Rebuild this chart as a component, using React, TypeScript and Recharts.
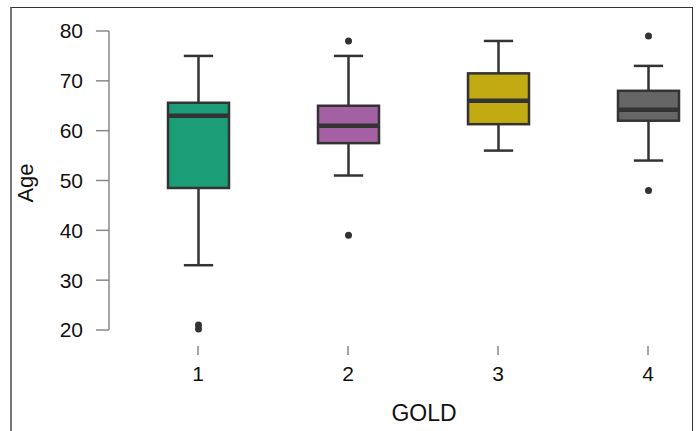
import React from "react";
import { Bar, ComposedChart, XAxis, YAxis } from "recharts";

const groups = ["1", "2", "3", "4"];
const lowerWhisker = [33, 51, 56, 54];
const lowerQuartile = [48.5, 57.5, 61.3, 62];
const medians = [63, 61, 66, 64.2];
const upperQuartile = [65.6, 65, 71.5, 68];
const upperWhisker = [75, 75, 78, 73];
const outliers: number[][] = [[21, 20.2], [78, 39], [], [79, 48]];
const fills = ["#1b9e77", "#a361a3", "#c2aa12", "#666666"];
const yTicks = [20, 30, 40, 50, 60, 70, 80];

type BoxRow = {
  group: string;
  lo: number;
  q1: number;
  med: number;
  q3: number;
  hi: number;
  out: number[];
  fill: string;
};

const rows: BoxRow[] = groups.map((group, i) => ({
  group,
  lo: lowerWhisker[i],
  q1: lowerQuartile[i],
  med: medians[i],
  q3: upperQuartile[i],
  hi: upperWhisker[i],
  out: outliers[i],
  fill: fills[i],
}));

// full extent of each group (whiskers + outliers), used as the bar range
const extent = (r: BoxRow): [number, number] => [
  Math.min(r.lo, ...r.out),
  Math.max(r.hi, ...r.out),
];

const INK = "#333333";
const FONT = "'Liberation Sans', Arial, sans-serif";

function BoxShape(props: any) {
  const { x, width, payload } = props;
  const y = Math.min(props.y, props.y + props.height);
  const h = Math.abs(props.height);
  const [min, max] = extent(payload);
  const py = (v: number) => y + ((max - v) / (max - min)) * h;
  const cx = x + width / 2;
  const cap = width * 0.24;
  return (
    <g>
      <line x1={cx} x2={cx} y1={py(payload.hi)} y2={py(payload.q3)} stroke={INK} strokeWidth={2.5} />
      <line x1={cx} x2={cx} y1={py(payload.q1)} y2={py(payload.lo)} stroke={INK} strokeWidth={2.5} />
      <line x1={cx - cap} x2={cx + cap} y1={py(payload.hi)} y2={py(payload.hi)} stroke={INK} strokeWidth={2.5} />
      <line x1={cx - cap} x2={cx + cap} y1={py(payload.lo)} y2={py(payload.lo)} stroke={INK} strokeWidth={2.5} />
      <rect
        x={x}
        y={py(payload.q3)}
        width={width}
        height={py(payload.q1) - py(payload.q3)}
        fill={payload.fill}
        stroke={INK}
        strokeWidth={2.5}
      />
      <line x1={x} x2={x + width} y1={py(payload.med)} y2={py(payload.med)} stroke={INK} strokeWidth={4.5} />
      {payload.out.map((v: number, i: number) => (
        <circle key={i} cx={cx} cy={py(v)} r={3.5} fill={INK} />
      ))}
    </g>
  );
}

function GroupTick(props: any) {
  const { x, y, payload } = props;
  return (
    <g>
      <line x1={x} x2={x} y1={y + 16} y2={y + 25} stroke="#888" strokeWidth={1.5} />
      <text x={x} y={y + 51} textAnchor="middle" fontSize={21} fontFamily={FONT} fill="#111">
        {payload.value}
      </text>
    </g>
  );
}

export default function App() {
  return (
    <div
      style={{
        position: "fixed",
        left: 0,
        top: 0,
        width: 696,
        height: 431,
        overflow: "hidden",
        background: "#fff",
      }}
    >
      <div
        style={{
          position: "absolute",
          left: 10,
          top: 7,
          width: 680,
          height: 460,
          borderTop: "1px solid #333",
          borderRight: "1px solid #333",
          borderLeft: "2px solid #777",
        }}
      />
      <div style={{ position: "absolute", left: 0, top: 0 }}>
        <ComposedChart
          width={730}
          height={431}
          data={rows}
          margin={{ top: 31, right: 7, bottom: 0, left: 0 }}
        >
          <XAxis
            dataKey="group"
            height={101}
            padding={{ left: 14, right: 0 }}
            axisLine={false}
            tickLine={false}
            tickSize={0}
            tickMargin={0}
            tick={<GroupTick />}
            interval={0}
          />
          <YAxis
            width={109}
            domain={[20, 80]}
            ticks={yTicks}
            interval={0}
            tickSize={13}
            tickMargin={13}
            axisLine={{ stroke: "#888", strokeWidth: 1.5 }}
            tickLine={{ stroke: "#888", strokeWidth: 1.5 }}
            tick={{ fill: "#111", fontSize: 21, fontFamily: FONT }}
          />
          <Bar
            dataKey={(r: BoxRow) => extent(r)}
            barSize={61}
            shape={<BoxShape />}
            isAnimationActive={false}
          />
        </ComposedChart>
      </div>
      <svg
        width={696}
        height={431}
        style={{ position: "absolute", left: 0, top: 0, pointerEvents: "none" }}
      >
        <text
          x={424}
          y={421}
          textAnchor="middle"
          fontSize={23}
          fontFamily={FONT}
          fill="#111"
        >
          GOLD
        </text>
        <text
          x={33}
          y={183}
          textAnchor="middle"
          fontSize={22}
          fontFamily={FONT}
          fill="#111"
          transform="rotate(-90 33 183)"
        >
          Age
        </text>
      </svg>
    </div>
  );
}
